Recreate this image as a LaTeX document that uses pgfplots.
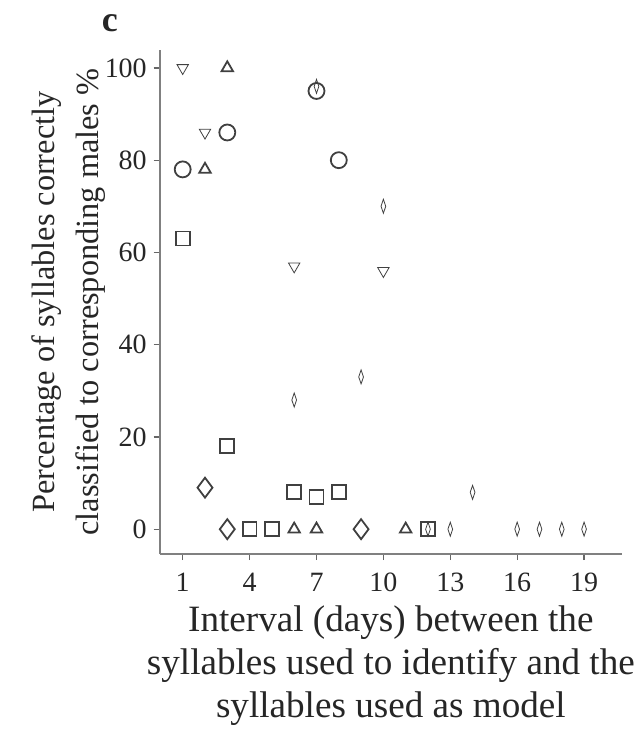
\documentclass[border=0pt]{standalone}
\usepackage{fontspec}
\setmainfont{Liberation Serif}
\usepackage{pgfplots}
\pgfplotsset{compat=1.18}

\begin{document}
\begin{tikzpicture}
\begin{axis}[
  scale only axis, width=231.5pt, height=252.5pt,
  axis lines=left, axis line style={black!50, line width=1.2pt, -},
  xmin=-0.03, xmax=20.7, ymin=-5.4, ymax=103.9,
  xtick={1,4,...,19}, ytick={0,20,...,100},
  tick align=outside, tick style={black!60, line width=0.6pt},
  major tick length=3pt,
  /pgf/number format/assume math mode=true,
  ticklabel style={font=\fontsize{14}{14}\selectfont, black!85},
  xticklabel style={yshift=-3pt},
  xlabel={Interval (days) between the\\syllables used to identify and the\\syllables used as model},
  ylabel={Percentage of syllables correctly\\classified to corresponding males \%},
  xlabel style={font=\fontsize{18.6}{21.5}\selectfont, align=center, black!85},
  ylabel style={font=\fontsize{16.2}{22}\selectfont, align=center, black!85, inner sep=1pt},
  ylabel shift=-5pt,
  every axis plot/.append style={only marks, black!75, mark options={line width=0.9pt, fill=none}},
  clip=false,
]
% inverted triangles
\addplot[mark=triangle, mark size=3.3pt, mark options={rotate=180}]
  coordinates {(1,100)(2,86)(6,57)(10,56)};
% triangles
\addplot[mark=triangle, mark size=3.3pt]
  coordinates {(3,100)(2,78)(6,0)(7,0)(11,0)};
% circles
\addplot[mark=o, mark size=4pt]
  coordinates {(1,78)(3,86)(7,95)(8,80)};
% squares
\addplot[mark=square, mark size=3.5pt]
  coordinates {(1,63)(3,18)(4,0)(5,0)(6,8)(7,7)(8,8)(12,0)};
% large diamonds
\addplot[mark=diamond, mark size=5pt]
  coordinates {(2,9)(3,0)(9,0)};
% narrow diamonds
\addplot[mark=diamond, mark size=3.5pt, mark options={xscale=0.45}]
  coordinates {(7,96)(10,70)(9,33)(6,28)(14,8)(12,0)(13,0)(16,0)(17,0)(18,0)(19,0)};
\node[font=\fontsize{18}{18}\selectfont\bfseries, black!85] at ([xshift=-25pt, yshift=13.5pt]rel axis cs:0,1) {c};
\end{axis}
\path (current axis.south west) ++(-80pt,-88.5pt) rectangle ++(320.5pt,366pt);
\end{tikzpicture}
\end{document}
